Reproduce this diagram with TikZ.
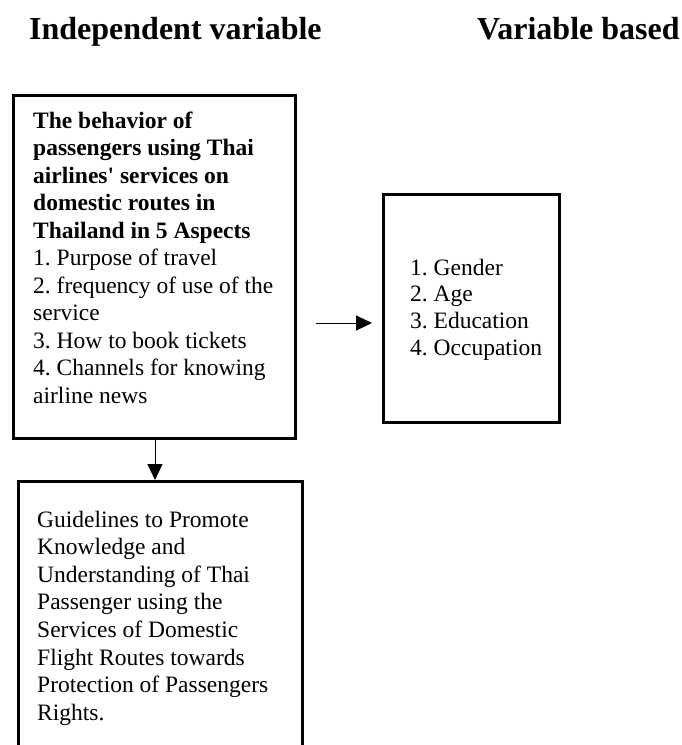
\documentclass[tikz,border=0pt]{standalone}
\usepackage{fontspec}
\setmainfont{Liberation Serif}
\usetikzlibrary{arrows.meta}
\frenchspacing
\tikzset{
  box/.style={draw, line width=2.5pt, rectangle, anchor=north west, inner sep=0pt},
  txt/.style={anchor=base west, inner sep=0pt},
  conn/.style={line width=1pt, -{Triangle[length=16pt,width=15pt]}},
}
\newcommand{\bodyfont}{\fontsize{23.5}{27.5}\selectfont}
\begin{document}
\begin{tikzpicture}[x=1pt,y=-1pt]
\useasboundingbox (0,0) rectangle (682,745);
\clip (0,0) rectangle (682,745);
% titles
\node[txt, font=\fontsize{32}{36}\selectfont\bfseries] (t1) at (29,39) {Independent variable};
\node[txt, font=\fontsize{32}{36}\selectfont\bfseries] (t2) at (477,39) {Variable based};
% boxes
\node[box, minimum width=282pt, minimum height=343pt] (b1) at (12,94) {};
\node[box, minimum width=176pt, minimum height=228pt] (b2) at (382,193) {};
\node[box, minimum width=284pt, minimum height=300pt] (b3) at (17,480) {};
% texts
\node[txt] (x1) at (33,128) {\parbox[t]{300pt}{\bodyfont\frenchspacing
\textbf{The behavior of}\\
\textbf{passengers using Thai}\\
\textbf{airlines\textquotesingle{} services on}\\
\textbf{domestic routes in}\\
\textbf{Thailand in 5 Aspects}\\
1. Purpose of travel\\
2. frequency of use of the\\
service\\
3. How to book tickets\\
4. Channels for knowing\\
airline news}};
\node[txt] (x2) at (410,275) {\parbox[t]{200pt}{\fontsize{23.5}{26.8}\selectfont\frenchspacing
1. Gender\\
2. Age\\
3. Education\\
4. Occupation}};
\node[txt] (x3) at (37,527) {\parbox[t]{300pt}{\fontsize{23.5}{27.6}\selectfont\frenchspacing
Guidelines to Promote\\
Knowledge and\\
Understanding of Thai\\
Passenger using the\\
Services of Domestic\\
Flight Routes towards\\
Protection of Passengers\\
Rights.}};
% connectors
\coordinate (ay) at (0,323);
\coordinate (ax) at (155,0);
\draw[conn, shorten <=19pt, shorten >=10pt] (b1.east |- ay) -- (b2.west |- ay);
\draw[conn] (b1.south -| ax) -- (b3.north -| ax);
\end{tikzpicture}
\end{document}
